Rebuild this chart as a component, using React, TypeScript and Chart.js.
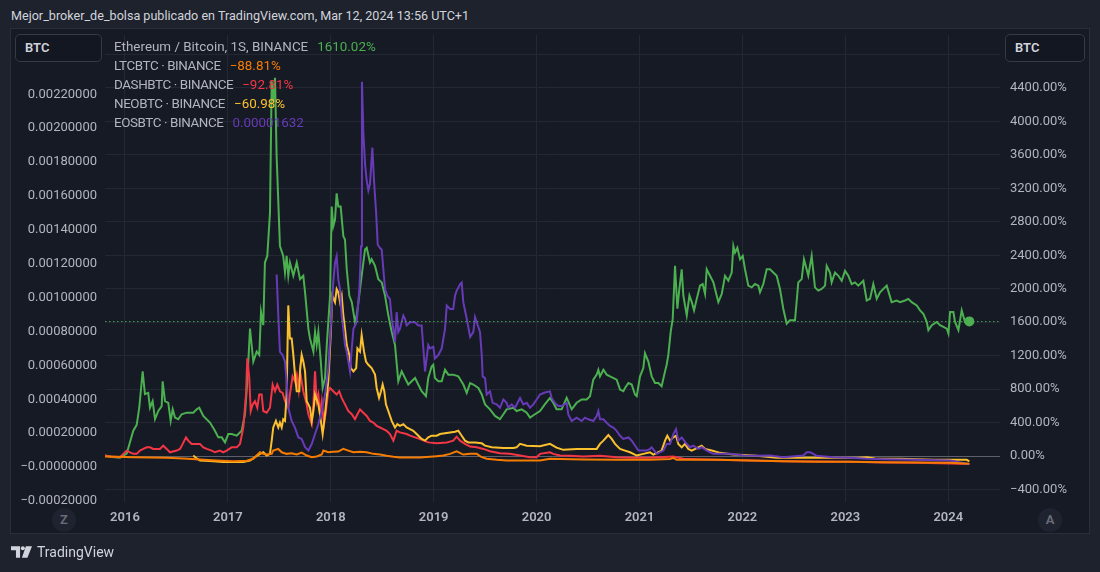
import React, { useEffect, useRef } from 'react';
import { Chart, registerables } from 'chart.js';

Chart.register(...registerables);

// ---------- tick labels ----------
const yearTicks = [2016, 2017, 2018, 2019, 2020, 2021, 2022, 2023, 2024];
const pctTicks = [-400, 0, 400, 800, 1200, 1600, 2000, 2400, 2800, 3200, 3600, 4000, 4400, 4800];
const btcTicks = [-0.0002, 0, 0.0002, 0.0004, 0.0006, 0.0008, 0.001, 0.0012, 0.0014, 0.0016, 0.0018, 0.002, 0.0022];

// ---------- legend ----------
const seriesNames = ['Ethereum / Bitcoin, 1S, BINANCE', 'LTCBTC · BINANCE', 'DASHBTC · BINANCE', 'NEOBTC · BINANCE', 'EOSBTC · BINANCE'];
const seriesLast = ['1610.02%', '−88.81%', '−92.81%', '−60.98%', '0.00001632'];
const seriesColors = ['#4caf50', '#f57c00', '#f23645', '#fbc02d', '#673ab7'];
const ethLastPct = 1610.02;

// ---------- series (year, % change) ----------
const ethData: [number, number][] = [
  [2015.806, 8], [2015.874, -9], [2015.951, -19], [2016.017, 32], [2016.081, 304], [2016.114, 375], [2016.139, 579],
  [2016.172, 1013], [2016.194, 741], [2016.226, 756], [2016.243, 579], [2016.269, 658], [2016.292, 442], [2016.324, 540],
  [2016.357, 599], [2016.366, 895], [2016.389, 658], [2016.421, 638], [2016.444, 422], [2016.464, 560], [2016.486, 461],
  [2016.518, 442], [2016.551, 501], [2016.6, 520], [2016.664, 520], [2016.697, 560], [2016.722, 579], [2016.761, 481],
  [2016.826, 402], [2016.874, 304], [2016.907, 225], [2016.94, 225], [2016.972, 165], [2017.004, 265], [2017.037, 265],
  [2017.086, 245], [2017.134, 304], [2017.166, 501], [2017.189, 895], [2017.215, 1524], [2017.231, 1328], [2017.247, 1131],
  [2017.28, 1249], [2017.305, 1210], [2017.322, 1722], [2017.344, 1565], [2017.36, 2313], [2017.383, 2392], [2017.409, 2903],
  [2017.426, 4479], [2017.441, 4242], [2017.458, 4519], [2017.474, 3573], [2017.506, 2510], [2017.538, 2392], [2017.555, 2194],
  [2017.571, 2392], [2017.587, 2155], [2017.603, 2313], [2017.62, 2233], [2017.636, 2155], [2017.669, 2313], [2017.701, 2115],
  [2017.733, 2155], [2017.75, 1958], [2017.782, 1524], [2017.798, 1406], [2017.831, 1249], [2017.847, 1485], [2017.863, 1328],
  [2017.879, 1485], [2017.903, 1131], [2017.921, 815], [2017.944, 934], [2017.961, 1328], [2017.993, 1919], [2018.009, 2983],
  [2018.024, 2746], [2018.041, 2824], [2018.057, 3140], [2018.073, 2983], [2018.096, 2983], [2018.122, 2628], [2018.138, 2588],
  [2018.155, 2233], [2018.18, 1919], [2018.204, 1840], [2018.235, 1604], [2018.252, 1683], [2018.284, 1997], [2018.3, 2155],
  [2018.333, 2470], [2018.349, 2490], [2018.381, 2313], [2018.397, 2352], [2018.43, 2273], [2018.462, 2115], [2018.495, 2076],
  [2018.527, 1919], [2018.559, 1683], [2018.592, 1485], [2018.624, 1328], [2018.656, 895], [2018.689, 1013], [2018.721, 934],
  [2018.753, 856], [2018.819, 934], [2018.85, 856], [2018.883, 776], [2018.925, 717], [2018.947, 934], [2018.98, 1072],
  [2018.996, 1092], [2019.012, 934], [2019.045, 895], [2019.078, 895], [2019.11, 1033], [2019.142, 974], [2019.19, 974],
  [2019.239, 954], [2019.288, 856], [2019.321, 756], [2019.354, 874], [2019.385, 856], [2019.434, 815], [2019.467, 737],
  [2019.499, 619], [2019.547, 560], [2019.596, 481], [2019.644, 442], [2019.709, 560], [2019.774, 579], [2019.806, 540],
  [2019.855, 560], [2019.904, 520], [2019.936, 461], [2019.984, 501], [2020.033, 540], [2020.08, 620], [2020.13, 697],
  [2020.162, 638], [2020.194, 560], [2020.243, 560], [2020.292, 697], [2020.341, 560], [2020.389, 638], [2020.438, 678],
  [2020.486, 678], [2020.519, 717], [2020.551, 915], [2020.584, 974], [2020.6, 1033], [2020.616, 954], [2020.649, 1033],
  [2020.681, 974], [2020.713, 954], [2020.778, 915], [2020.811, 796], [2020.843, 776], [2020.859, 815], [2020.892, 874],
  [2020.924, 856], [2020.956, 737], [2020.973, 717], [2021.005, 954], [2021.037, 1052], [2021.053, 1229], [2021.086, 1131],
  [2021.118, 954], [2021.151, 874], [2021.183, 874], [2021.215, 835], [2021.248, 1013], [2021.264, 1092], [2021.28, 1210],
  [2021.303, 1485], [2021.323, 1643], [2021.345, 2273], [2021.368, 1761], [2021.387, 1997], [2021.41, 2233], [2021.426, 1919],
  [2021.459, 1683], [2021.485, 1919], [2021.508, 1840], [2021.53, 1742], [2021.556, 1879], [2021.588, 2037], [2021.614, 2056],
  [2021.637, 1938], [2021.653, 2233], [2021.685, 2155], [2021.718, 2076], [2021.766, 1840], [2021.799, 1938], [2021.831, 2155],
  [2021.863, 2096], [2021.896, 2194], [2021.912, 2510], [2021.928, 2431], [2021.951, 2490], [2021.977, 2352], [2022.003, 2392],
  [2022.025, 2233], [2022.057, 2037], [2022.09, 2017], [2022.122, 2056], [2022.155, 2037], [2022.171, 1958], [2022.203, 2056],
  [2022.236, 2233], [2022.268, 2233], [2022.3, 2194], [2022.333, 2155], [2022.365, 1997], [2022.397, 1761], [2022.43, 1583],
  [2022.462, 1624], [2022.511, 1624], [2022.543, 2076], [2022.576, 2115], [2022.598, 2352], [2022.624, 2233], [2022.64, 2155],
  [2022.673, 2392], [2022.705, 2017], [2022.737, 1978], [2022.77, 1997], [2022.803, 2037], [2022.819, 2273], [2022.851, 2194],
  [2022.867, 2076], [2022.9, 2194], [2022.932, 2155], [2022.965, 2096], [2022.997, 2214], [2023.029, 2155], [2023.062, 2056],
  [2023.094, 2076], [2023.126, 2037], [2023.175, 2096], [2023.208, 1860], [2023.24, 1879], [2023.272, 2056], [2023.305, 1879],
  [2023.337, 1958], [2023.402, 2037], [2023.45, 1840], [2023.499, 1860], [2023.532, 1840], [2023.58, 1860], [2023.612, 1879],
  [2023.645, 1840], [2023.694, 1801], [2023.726, 1742], [2023.758, 1702], [2023.791, 1604], [2023.807, 1505], [2023.84, 1565],
  [2023.888, 1604], [2023.92, 1565], [2023.953, 1544], [2023.986, 1524], [2024.002, 1465], [2024.018, 1722], [2024.05, 1722],
  [2024.066, 1604], [2024.099, 1505], [2024.131, 1742], [2024.163, 1604], [2024.205, 1610.02],
];

const ltcData: [number, number][] = [
  [2015.806, -4], [2015.919, -7], [2016.081, -12], [2016.243, -15], [2016.405, -19], [2016.567, -27], [2016.729, -39],
  [2016.891, -51], [2017.052, -59], [2017.183, -54], [2017.247, -31], [2017.312, 47], [2017.344, 28], [2017.377, 20],
  [2017.426, 28], [2017.441, 67], [2017.49, 87], [2017.523, 47], [2017.571, 28], [2017.62, 35], [2017.669, 20],
  [2017.717, 44], [2017.766, 8], [2017.815, -12], [2017.863, -4], [2017.912, 20], [2017.928, 67], [2017.976, 47],
  [2018.024, 52], [2018.073, 56], [2018.122, 87], [2018.17, 67], [2018.22, 47], [2018.284, 52], [2018.349, 47],
  [2018.413, 28], [2018.479, 20], [2018.543, 5], [2018.608, -7], [2018.672, -15], [2018.77, -15], [2018.867, -15],
  [2018.964, -7], [2019.029, 0], [2019.093, 8], [2019.159, 28], [2019.223, 59], [2019.288, 20], [2019.354, 28],
  [2019.418, 28], [2019.467, -12], [2019.515, -31], [2019.612, -43], [2019.709, -51], [2019.839, -51], [2020.033, -51],
  [2020.13, -31], [2020.454, -39], [2020.778, -43], [2021.102, -43], [2021.297, -33], [2021.326, -19], [2021.361, -43],
  [2021.75, -43], [2022.074, -51], [2022.397, -59], [2022.721, -66], [2023.045, -66], [2023.37, -71], [2023.694, -74],
  [2024.018, -78], [2024.205, -88.81],
];

const dashData: [number, number][] = [
  [2015.806, 8], [2015.854, -4], [2015.951, -12], [2016.017, 67], [2016.049, 47], [2016.081, 28], [2016.114, 28],
  [2016.146, 67], [2016.178, 87], [2016.211, 106], [2016.243, 106], [2016.275, 87], [2016.34, 87], [2016.372, 126],
  [2016.405, 87], [2016.437, 47], [2016.502, 67], [2016.535, 87], [2016.561, 147], [2016.593, 225], [2016.615, 186],
  [2016.648, 147], [2016.697, 147], [2016.729, 147], [2016.761, 106], [2016.794, 87], [2016.843, 67], [2016.875, 47],
  [2016.923, 67], [2016.955, 47], [2016.988, 67], [2017.037, 106], [2017.086, 106], [2017.118, 147], [2017.15, 343],
  [2017.176, 737], [2017.189, 1170], [2017.208, 934], [2017.222, 540], [2017.241, 619], [2017.263, 658], [2017.286, 579],
  [2017.305, 737], [2017.328, 737], [2017.344, 540], [2017.377, 520], [2017.409, 579], [2017.435, 856], [2017.458, 776],
  [2017.48, 856], [2017.506, 776], [2017.532, 756], [2017.555, 658], [2017.587, 579], [2017.603, 737], [2017.629, 954],
  [2017.652, 895], [2017.669, 974], [2017.688, 796], [2017.701, 1013], [2017.733, 776], [2017.766, 619], [2017.782, 501],
  [2017.815, 383], [2017.831, 619], [2017.847, 1013], [2017.863, 658], [2017.879, 737], [2017.895, 501], [2017.912, 658],
  [2017.934, 383], [2017.953, 540], [2017.976, 776], [2017.993, 815], [2018.024, 776], [2018.057, 737], [2018.082, 776],
  [2018.106, 697], [2018.138, 619], [2018.17, 540], [2018.204, 501], [2018.235, 442], [2018.259, 501], [2018.284, 560],
  [2018.316, 520], [2018.349, 481], [2018.381, 422], [2018.413, 402], [2018.446, 363], [2018.479, 343], [2018.511, 324],
  [2018.543, 304], [2018.575, 265], [2018.608, 186], [2018.64, 304], [2018.672, 284], [2018.737, 265], [2018.77, 245],
  [2018.819, 225], [2018.867, 206], [2018.947, 165], [2019.029, 154], [2019.127, 165], [2019.19, 186], [2019.223, 233],
  [2019.256, 186], [2019.304, 147], [2019.354, 115], [2019.418, 106], [2019.483, 87], [2019.547, 59], [2019.644, 35],
  [2019.742, 28], [2019.839, 8], [2019.936, -12], [2020.001, -12], [2020.033, 28], [2020.13, 47], [2020.162, 28],
  [2020.227, 8], [2020.324, 5], [2020.454, -4], [2020.616, 5], [2020.778, -12], [2020.94, -19], [2021.102, -19],
  [2021.329, -4], [2021.426, -31], [2021.75, -43], [2022.074, -51], [2022.397, -59], [2023.045, -66], [2023.37, -74],
  [2023.694, -78], [2024.018, -86], [2024.205, -92.81],
];

const neoData: [number, number][] = [
  [2016.664, 8], [2016.697, -27], [2016.729, -51], [2016.826, -57], [2016.955, -69], [2017.15, -69], [2017.215, -51],
  [2017.263, -12], [2017.312, 28], [2017.344, 47], [2017.377, 8], [2017.409, 28], [2017.426, 186], [2017.441, 343],
  [2017.467, 422], [2017.49, 343], [2017.506, 402], [2017.523, 343], [2017.538, 442], [2017.555, 422], [2017.571, 737],
  [2017.587, 1801], [2017.603, 1406], [2017.62, 1406], [2017.636, 1210], [2017.652, 974], [2017.669, 776], [2017.694, 776],
  [2017.701, 1013], [2017.717, 1210], [2017.733, 1131], [2017.75, 1013], [2017.766, 658], [2017.782, 619], [2017.798, 579],
  [2017.815, 422], [2017.831, 540], [2017.847, 737], [2017.879, 619], [2017.895, 501], [2017.921, 265], [2017.944, 501],
  [2017.976, 895], [2017.999, 1446], [2018.015, 1919], [2018.041, 1840], [2018.057, 1997], [2018.073, 1958], [2018.09, 1840],
  [2018.106, 1919], [2018.122, 1683], [2018.138, 1524], [2018.155, 1328], [2018.18, 1210], [2018.194, 1052], [2018.22, 1013],
  [2018.247, 1052], [2018.259, 1288], [2018.284, 1249], [2018.3, 1446], [2018.323, 1249], [2018.342, 1131], [2018.365, 1092],
  [2018.397, 1052], [2018.43, 974], [2018.446, 815], [2018.469, 697], [2018.488, 776], [2018.504, 856], [2018.52, 776],
  [2018.536, 619], [2018.559, 540], [2018.592, 422], [2018.624, 343], [2018.647, 383], [2018.672, 363], [2018.705, 383],
  [2018.737, 343], [2018.77, 324], [2018.802, 304], [2018.834, 265], [2018.883, 206], [2018.916, 186], [2018.947, 225],
  [2018.98, 245], [2019.029, 245], [2019.061, 265], [2019.093, 272], [2019.159, 284], [2019.207, 292], [2019.239, 304],
  [2019.272, 245], [2019.304, 186], [2019.337, 165], [2019.402, 165], [2019.467, 154], [2019.499, 126], [2019.564, 106],
  [2019.677, 99], [2019.774, 99], [2019.806, 106], [2019.839, 147], [2019.904, 126], [2020.033, 118], [2020.13, 147],
  [2020.194, 103], [2020.259, 76], [2020.389, 87], [2020.519, 87], [2020.584, 87], [2020.616, 147], [2020.649, 186],
  [2020.697, 253], [2020.73, 206], [2020.762, 147], [2020.811, 87], [2020.859, 67], [2020.908, 47], [2020.973, 8],
  [2021.037, 28], [2021.102, 47], [2021.134, 20], [2021.215, 67], [2021.248, 186], [2021.27, 245], [2021.297, 186],
  [2021.329, 225], [2021.355, 245], [2021.377, 147], [2021.41, 106], [2021.442, 147], [2021.474, 87], [2021.507, 67],
  [2021.572, 106], [2021.604, 126], [2021.637, 87], [2021.702, 67], [2021.783, 40], [2021.912, 20], [2022.139, 5],
  [2022.333, -19], [2022.721, -19], [2023.126, -19], [2023.208, -12], [2023.288, -27], [2023.532, -31], [2023.856, -43],
  [2024.18, -43], [2024.205, -60.98],
];

// EOS is shown on the left (BTC price) scale
const eosData: [number, number][] = [
  [2017.474, 0.001137], [2017.49, 0.000894], [2017.506, 0.00068], [2017.532, 0.000661], [2017.555, 0.000622],
  [2017.571, 0.000506], [2017.587, 0.00035], [2017.62, 0.000272], [2017.652, 0.000233], [2017.685, 0.000175],
  [2017.717, 0.000166], [2017.75, 0.000117], [2017.782, 0.0000974], [2017.815, 0.000136], [2017.847, 0.000195],
  [2017.879, 0.000253], [2017.912, 0.000331], [2017.944, 0.000428], [2017.976, 0.000583], [2017.999, 0.000816],
  [2018.024, 0.001089], [2018.041, 0.001205], [2018.057, 0.001244], [2018.073, 0.001108], [2018.09, 0.00105],
  [2018.106, 0.000894], [2018.122, 0.000816], [2018.138, 0.00072], [2018.155, 0.00068], [2018.171, 0.000622],
  [2018.187, 0.000564], [2018.204, 0.0007], [2018.22, 0.000816], [2018.252, 0.000855], [2018.278, 0.00105],
  [2018.294, 0.001303], [2018.303, 0.002274], [2018.316, 0.001983], [2018.333, 0.001788], [2018.349, 0.001691],
  [2018.365, 0.001633], [2018.381, 0.001672], [2018.404, 0.001886], [2018.42, 0.001691], [2018.441, 0.001497],
  [2018.456, 0.001312], [2018.479, 0.001293], [2018.495, 0.001283], [2018.511, 0.001166], [2018.527, 0.00105],
  [2018.55, 0.001011], [2018.575, 0.000991], [2018.592, 0.000875], [2018.608, 0.000816], [2018.624, 0.000739],
  [2018.64, 0.000914], [2018.656, 0.000797], [2018.672, 0.000816], [2018.705, 0.000894], [2018.721, 0.000875],
  [2018.737, 0.000836], [2018.77, 0.000855], [2018.819, 0.000855], [2018.85, 0.000836], [2018.883, 0.000836],
  [2018.916, 0.000564], [2018.947, 0.00072], [2018.964, 0.0007], [2018.996, 0.00071], [2019.012, 0.000641],
  [2019.045, 0.000661], [2019.078, 0.0007], [2019.11, 0.000816], [2019.127, 0.000953], [2019.159, 0.000933],
  [2019.19, 0.000933], [2019.207, 0.001011], [2019.223, 0.00104], [2019.256, 0.001079], [2019.272, 0.001089],
  [2019.288, 0.000972], [2019.321, 0.000875], [2019.354, 0.000768], [2019.385, 0.000797], [2019.402, 0.000885],
  [2019.418, 0.000855], [2019.45, 0.000797], [2019.467, 0.000661], [2019.476, 0.000535], [2019.499, 0.000525],
  [2019.515, 0.000428], [2019.547, 0.000447], [2019.573, 0.000379], [2019.612, 0.00037], [2019.644, 0.00035],
  [2019.677, 0.000399], [2019.709, 0.000379], [2019.725, 0.00035], [2019.758, 0.00037], [2019.79, 0.00035],
  [2019.839, 0.000408], [2019.871, 0.00037], [2019.904, 0.000379], [2019.936, 0.00035], [2019.968, 0.00037],
  [2020.001, 0.000399], [2020.033, 0.000428], [2020.08, 0.00044], [2020.13, 0.000447], [2020.146, 0.000408],
  [2020.178, 0.000379], [2020.211, 0.00036], [2020.243, 0.00036], [2020.292, 0.000379], [2020.308, 0.000311],
  [2020.341, 0.000272], [2020.389, 0.000292], [2020.438, 0.000272], [2020.47, 0.000292], [2020.503, 0.000282],
  [2020.551, 0.000272], [2020.584, 0.000301], [2020.6, 0.000331], [2020.616, 0.000282], [2020.649, 0.000282],
  [2020.681, 0.000262], [2020.713, 0.000243], [2020.746, 0.000233], [2020.778, 0.000214], [2020.811, 0.000185],
  [2020.843, 0.000166], [2020.892, 0.000175], [2020.924, 0.000156], [2020.956, 0.000127], [2020.989, 0.0000974],
  [2021.021, 0.0000974], [2021.07, 0.0000974], [2021.102, 0.000107], [2021.118, 0.000117], [2021.167, 0.0000781],
  [2021.232, 0.0000974], [2021.264, 0.000136], [2021.297, 0.000136], [2021.329, 0.000195], [2021.355, 0.000224],
  [2021.377, 0.000156], [2021.41, 0.000175], [2021.459, 0.000136], [2021.491, 0.000117], [2021.523, 0.000127],
  [2021.572, 0.000107], [2021.604, 0.000117], [2021.653, 0.0000974], [2021.718, 0.0000781], [2021.783, 0.0000781],
  [2021.88, 0.0000781], [2021.944, 0.000074], [2022.009, 0.0000682], [2022.139, 0.0000665], [2022.268, 0.0000682],
  [2022.397, 0.0000583], [2022.592, 0.0000682], [2022.624, 0.0000875], [2022.657, 0.0000875], [2022.689, 0.0000781],
  [2022.721, 0.0000665], [2022.883, 0.0000583], [2023.045, 0.0000548], [2023.208, 0.000049], [2023.37, 0.0000466],
  [2023.694, 0.0000431], [2024.018, 0.0000391], [2024.205, 0.00001632],
];

// ---------- styles ----------
const FONT = 'Roboto, "Noto Sans", "DejaVu Sans", sans-serif';
const PAGE_BG = '#1e222d';
const PANE_BG = '#161a25';
const GRID = '#242833';
const ZERO_LINE = '#5d606b';
const TEXT = '#b2b5be';

const toXY = (d: [number, number][]) => d.map(([x, y]) => ({ x, y }));

const fmtPct = (v: number) => (v < 0 ? '−' + Math.abs(v).toFixed(2) : v.toFixed(2)) + '%';
const fmtBtc = (v: number) => (v <= 1e-12 ? '−' + Math.abs(v).toFixed(8) : v.toFixed(8));

const noPad = (s: any) => {
  s.paddingTop = 0;
  s.paddingBottom = 0;
  s.paddingLeft = 0;
  s.paddingRight = 0;
};

const priceLinePlugin = {
  id: 'priceLine',
  afterDatasetsDraw(chart: any) {
    const { ctx, chartArea, scales } = chart;
    const y = Math.round(scales.y.getPixelForValue(ethLastPct)) + 0.5;
    ctx.save();
    ctx.strokeStyle = 'rgba(76,175,80,0.85)';
    ctx.lineWidth = 1;
    ctx.setLineDash([1.5, 2.5]);
    ctx.beginPath();
    ctx.moveTo(chartArea.left, y);
    ctx.lineTo(chartArea.right, y);
    ctx.stroke();
    ctx.restore();
  },
};

function ChartCanvas() {
  const ref = useRef<HTMLCanvasElement | null>(null);
  useEffect(() => {
    if (!ref.current) return;
    const lastEth = ethData.length - 1;
    const line = (label: string, data: [number, number][], color: string, axis: string, extra: any = {}) => ({
      label,
      data: toXY(data),
      borderColor: color,
      backgroundColor: color,
      borderWidth: 2,
      pointRadius: 0,
      pointHoverRadius: 0,
      tension: 0,
      yAxisID: axis,
      ...extra,
    });
    const chart = new Chart(ref.current, {
      type: 'line',
      data: {
        datasets: [
          line(seriesNames[1], ltcData, seriesColors[1], 'y'),
          line(seriesNames[4], eosData, seriesColors[4], 'yBtc'),
          line(seriesNames[3], neoData, seriesColors[3], 'y'),
          line(seriesNames[2], dashData, seriesColors[2], 'y'),
          line(seriesNames[0], ethData, seriesColors[0], 'y', {
            pointRadius: (c: any) => (c.dataIndex === lastEth ? 4 : 0),
          }),
        ],
      },
      options: {
        animation: false,
        responsive: false,
        events: [],
        layout: { padding: 0 },
        plugins: { legend: { display: false }, tooltip: { enabled: false } },
        scales: {
          x: {
            type: 'linear',
            min: 2015.806,
            max: 2024.503,
            afterBuildTicks: (s: any) => { s.ticks = yearTicks.map((v) => ({ value: v })); },
            afterFit: (s: any) => { s.height = 31; noPad(s); },
            grid: { color: GRID, drawTicks: false },
            border: { display: false },
            ticks: {
              color: TEXT,
              font: { family: FONT, size: 13, weight: 600 },
              padding: 8,
              maxRotation: 0,
              autoSkip: false,
              callback: (v: any) => String(v),
            },
          },
          y: {
            type: 'linear',
            position: 'right',
            min: -547,
            max: 5031,
            afterBuildTicks: (s: any) => { s.ticks = pctTicks.map((v) => ({ value: v })); },
            afterFit: (s: any) => { s.width = 89; noPad(s); },
            grid: {
              color: (c: any) => (c.tick && c.tick.value === 0 ? ZERO_LINE : GRID),
              drawTicks: false,
            },
            border: { display: false },
            ticks: {
              color: TEXT,
              font: { family: FONT, size: 13 },
              padding: 10,
              autoSkip: false,
              callback: (v: any) => (v === 4800 ? '' : fmtPct(Number(v))),
            },
          },
          yBtc: {
            type: 'linear',
            position: 'left',
            min: -0.0002061,
            max: 0.00255,
            afterBuildTicks: (s: any) => { s.ticks = btcTicks.map((v) => ({ value: v })); },
            afterFit: (s: any) => { s.width = 94; noPad(s); },
            grid: { display: false, drawTicks: false },
            border: { display: false },
            ticks: {
              color: TEXT,
              font: { family: FONT, size: 13 },
              padding: 8,
              autoSkip: false,
              callback: (v: any) => fmtBtc(Number(v)),
            },
          },
        },
      },
      plugins: [priceLinePlugin],
    } as any);
    return () => chart.destroy();
  }, []);
  return <canvas ref={ref} width={1078} height={504} style={{ position: 'absolute', left: 0, top: 0, width: 1078, height: 504 }} />;
}

function PriceBox({ left, top, width }: { left: number; top: number; width: number }) {
  return (
    <div
      style={{
        position: 'absolute', left, top, width, height: 28, boxSizing: 'border-box',
        border: '1px solid #363a45', borderRadius: 5, background: '#131722',
        color: '#d1d4dc', fontSize: 13, fontWeight: 600, lineHeight: '26px', paddingLeft: 9,
      }}
    >
      BTC
    </div>
  );
}

function RoundBtn({ cx, cy, label }: { cx: number; cy: number; label: string }) {
  return (
    <div
      style={{
        position: 'absolute', left: cx - 12, top: cy - 12, width: 24, height: 24, borderRadius: 12,
        background: '#1f2330', color: '#6a6d78', fontSize: 13, fontWeight: 600,
        textAlign: 'center', lineHeight: '24px',
      }}
    >
      {label}
    </div>
  );
}

export default function App() {
  return (
    <div style={{ position: 'absolute', left: 0, top: 0, width: 1100, height: 572, background: PAGE_BG, fontFamily: FONT, overflow: 'hidden' }}>
      <div style={{ position: 'absolute', left: 11, top: 8, fontSize: 12.6, lineHeight: '16px', color: '#d1d4dc', whiteSpace: 'nowrap' }}>
        Mejor_broker_de_bolsa publicado en TradingView.com, Mar 12, 2024 13:56 UTC+1
      </div>
      <div style={{ position: 'absolute', left: 10, top: 28, width: 1080, height: 506, boxSizing: 'border-box', border: '1px solid #2a2e39', background: PANE_BG }}>
        <ChartCanvas />
      </div>
      <div style={{ position: 'absolute', left: 114, top: 37, fontSize: 13.4, lineHeight: '19px', color: '#b2b5be', whiteSpace: 'nowrap' }}>
        {seriesNames.map((n, i) => (
          <div key={n} style={{ display: 'flex', gap: 9 }}>
            <span style={{ letterSpacing: i === 0 ? 0 : '-0.4px' }}>{n}</span>
            <span style={{ color: seriesColors[i] }}>{seriesLast[i]}</span>
          </div>
        ))}
      </div>
      <PriceBox left={15} top={34} width={87} />
      <PriceBox left={1005} top={34} width={80} />
      <RoundBtn cx={64} cy={520} label="Z" />
      <RoundBtn cx={1050} cy={520} label="A" />
      <div style={{ position: 'absolute', left: 11, top: 543, display: 'flex', alignItems: 'center', gap: 5 }}>
        <svg width={21} height={12} viewBox="0 0 22 12">
          <path d="M0 0 H9.5 V12 H5.2 V4.2 H0 Z" fill="#d1d4dc" />
          <circle cx={12.4} cy={2.1} r={2.1} fill="#d1d4dc" />
          <path d="M15.6 0 H22 L17.2 12 H11.4 Z" fill="#d1d4dc" />
        </svg>
        <span style={{ color: '#d1d4dc', fontSize: 14, lineHeight: '18px' }}>TradingView</span>
      </div>
    </div>
  );
}
